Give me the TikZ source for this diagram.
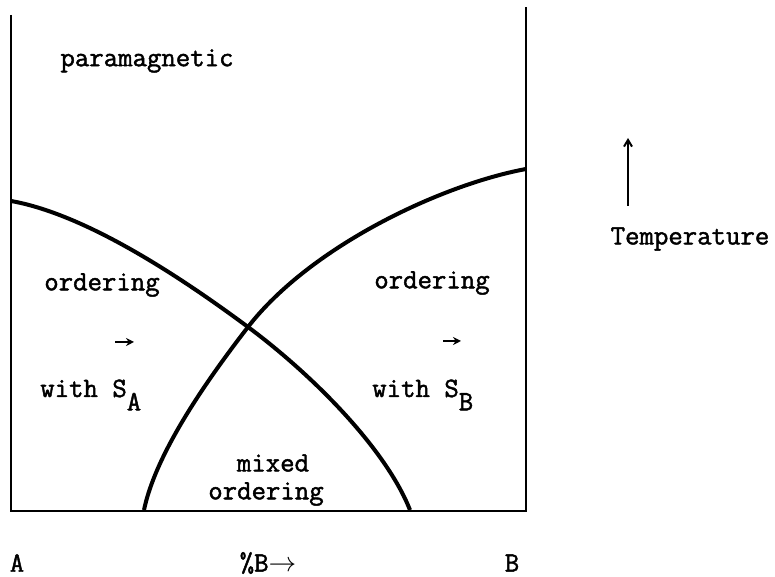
\documentclass[tikz,border=0pt]{standalone}
\usepackage{fontspec}
\newfontfamily\typew{Latin Modern Mono}[FakeBold=1.6]
\usetikzlibrary{arrows.meta}

\begin{document}
\begin{tikzpicture}[
x=0.75pt, y=0.75pt,
every node/.style={font=\typew\fontsize{21}{23}\selectfont, inner sep=0pt},
axis/.style={line width=1.6pt},
phase/.style={line width=3pt, line join=round},
vec/.style={line width=1.6pt, -{Stealth[length=6pt,width=6pt]}}
]
\useasboundingbox (0,0) rectangle (775,577);

% frame
\draw[axis] (11,562) -- (11,66) -- (526,66) -- (526,570);

% phase boundaries
\coordinate (cross) at (248,250);
\draw[phase] (11,376) .. controls (90,362) and (190,293) .. (cross)
  .. controls (310,204) and (385,130) .. (410,67);
\draw[phase] (526,408) .. controls (440,392) and (310,330) .. (cross)
  .. controls (200,188) and (155,120) .. (144,67);

% regions
\node (para) at (147,516) {paramagnetic};
\node (ordA) at (102,292) {ordering};
\node[anchor=base west] (withA) at (40,180) {with S\raisebox{-10pt}{A}};
\node (ordB) at (432,294) {ordering};
\node[anchor=base west] (withB) at (372,180) {with S\raisebox{-10pt}{B}};
\node (mixed) at (273,114) {mixed};
\node (mixord) at (266,83) {ordering};

\draw[vec] (115,235) -- (134,235);
\draw[vec] (443,236) -- (461,236);

% temperature axis
\node (temp) at (690,338) {Temperature};
\coordinate (tlow) at (628,371);
\coordinate (thigh) at (628,439);
\draw[line width=1.5pt, -{Straight Barb[length=5pt,width=6pt]}] (tlow) -- (thigh);

% composition
\node (endA) at (17,14) {A};
\node (comp) at (268,14) {\%B$\rightarrow$};
\node (endB) at (512,14) {B};

\end{tikzpicture}
\end{document}
